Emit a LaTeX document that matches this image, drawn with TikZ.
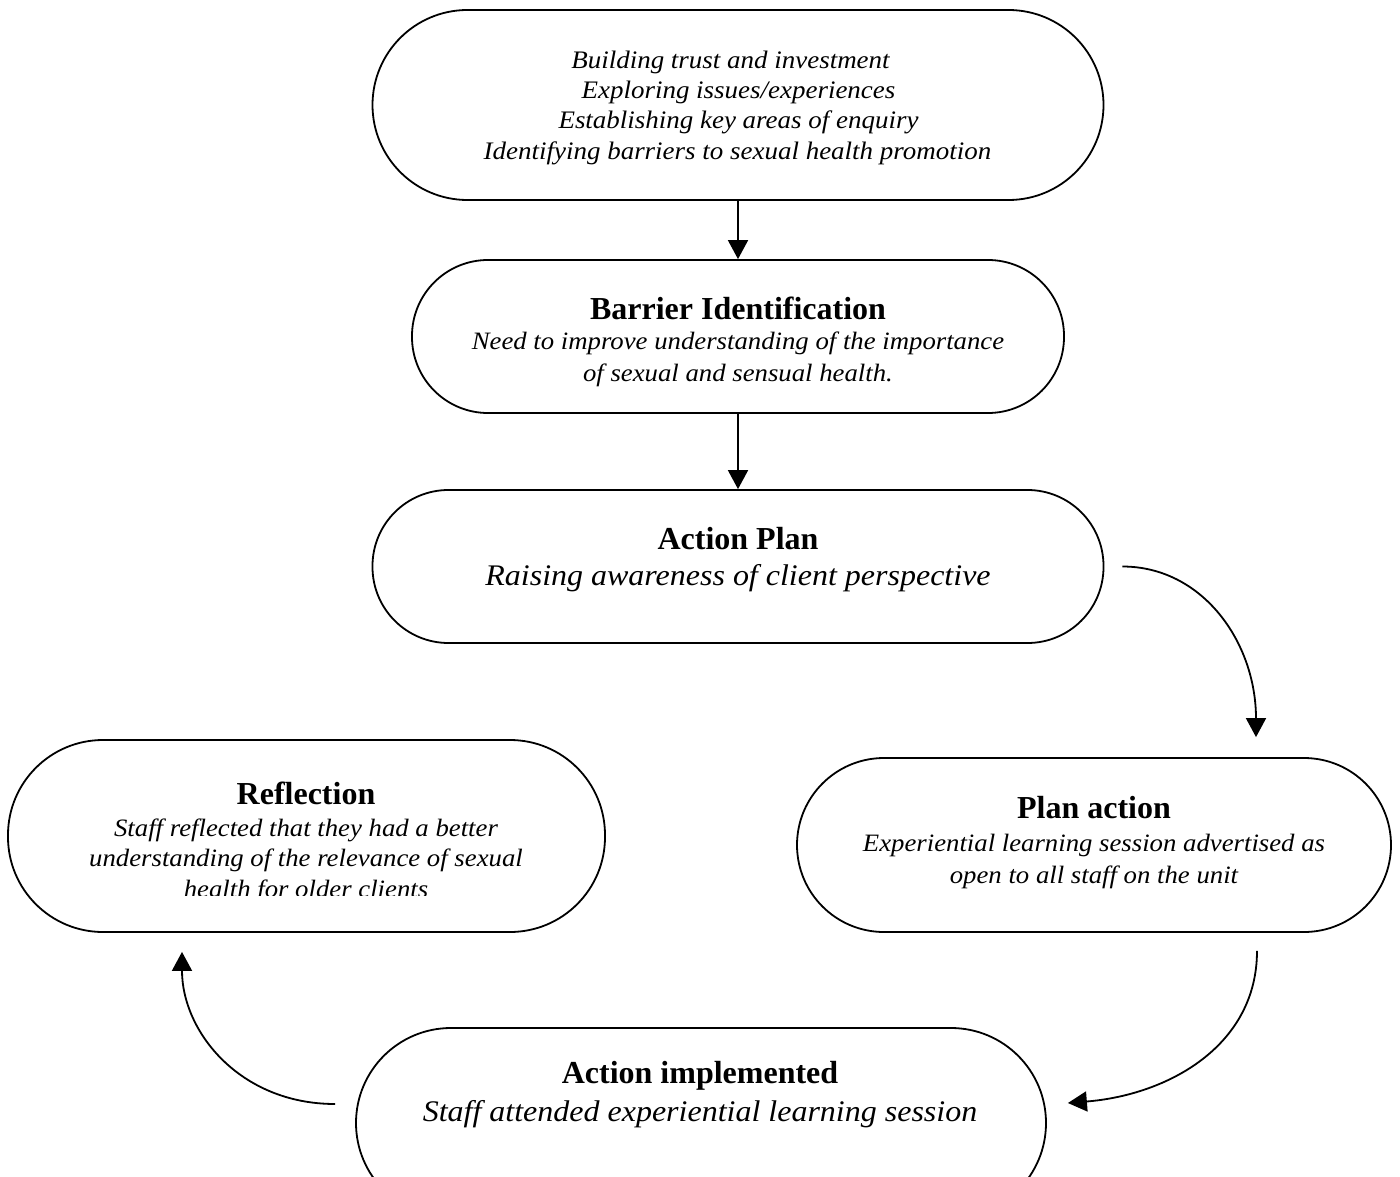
\documentclass[tikz,border=0pt]{standalone}
\usepackage{fontspec}
\setmainfont{Liberation Serif}[ItalicFeatures={FakeStretch=1.07}]
\usetikzlibrary{arrows.meta,calc}
\begin{document}
\begin{tikzpicture}[x=1pt,y=-1pt,
  stage/.style={draw,line width=1.8pt,rounded corners=#1,inner sep=0pt},
  stage/.default=92pt,
  ttl/.style={font=\fontsize{32}{34}\selectfont\bfseries,inner sep=0pt},
  txt/.style={font=\fontsize{#1}{#1}\selectfont\itshape,inner sep=0pt},
  link/.style={line width=1.8pt,-{Triangle[width=20pt,length=19pt]}}]
\useasboundingbox (0,0) rectangle (1400,1177);
\clip (0,0) rectangle (1400,1177);
\fill[white] (0,0) rectangle (1400,1177);

% stages of the cycle
\node[stage=95pt,minimum width=731pt,minimum height=190pt] (top) at (738,105) {};
\node[stage=76pt,minimum width=652pt,minimum height=153pt] (bar) at (738,336.5) {};
\node[stage=76pt,minimum width=731pt,minimum height=153pt] (ap) at (738,566.5) {};
\node[stage=95pt,minimum width=597pt,minimum height=192pt] (refl) at (306.5,836) {};
\node[stage=87pt,minimum width=594pt,minimum height=174pt] (pa) at (1094,845) {};
\node[stage=95pt,minimum width=690pt,minimum height=190pt] (ai) at (701,1123) {};

% texts
\node[txt=25.2] (top1) at (730.5,62) {Building trust and investment};
\node[txt=25.2] (top2) at (738.5,92) {Exploring issues/experiences};
\node[txt=25.2] (top3) at (738.5,122) {Establishing key areas of enquiry};
\node[txt=25.2] (top4) at (737.5,153) {Identifying barriers to sexual health promotion};

\node[ttl] (bart) at (738,308) {Barrier Identification};
\node[txt=25] (bar1) at (738,343) {Need to improve understanding of the importance};
\node[txt=25] (bar2) at (738,375) {of sexual and sensual health.};

\node[ttl] (apt) at (738,539) {Action Plan};
\node[txt=29.9] (ap1) at (738,578) {Raising awareness of client perspective};

\node[ttl] (reflt) at (306,793) {Reflection};
\node[txt=25] (refl1) at (306,830) {Staff reflected that they had a better};
\node[txt=25] (refl2) at (306,860) {understanding of the relevance of sexual};
\begin{scope}
  \clip (0,0) rectangle (1400,895.5);
  \node[txt=25] (refl3) at (306,891) {health for older clients};
\end{scope}

\node[ttl] (pat) at (1094,808) {Plan action};
\node[txt=25] (pa1) at (1094,845) {Experiential learning session advertised as};
\node[txt=25] (pa2) at (1094,877) {open to all staff on the unit};

\node[ttl] (ait) at (700,1076) {Action implemented};
\node[txt=29.9] (ai1) at (700,1114) {Staff attended experiential learning session};

% connectors
\draw[link] (top.south) -- (bar.north);
\draw[link] (bar.south) -- (ap.north);

\coordinate (c1) at ($(ap.east)+(18,0)$);
\coordinate (c2) at ($(pa.north)+(162,-20)$);
\draw[link] (c1) .. controls ($(c1)+(80,0)$) and ($(c2)+(0,-95)$) .. (c2);

\coordinate (c3) at ($(pa.south)+(163,18)$);
\coordinate (c4) at ($(ai.east)+(21,-20)$);
\draw[link] (c3) .. controls ($(c3)+(0,95)$) and ($(c4)+(100,-8)$) .. (c4);

\coordinate (c5) at ($(ai.west)+(-20,-19)$);
\coordinate (c6) at ($(refl.south)+(-124.5,19)$);
\draw[link] (c5) .. controls ($(c5)+(-95,0)$) and ($(c6)+(0,80)$) .. (c6);
\end{tikzpicture}
\end{document}
